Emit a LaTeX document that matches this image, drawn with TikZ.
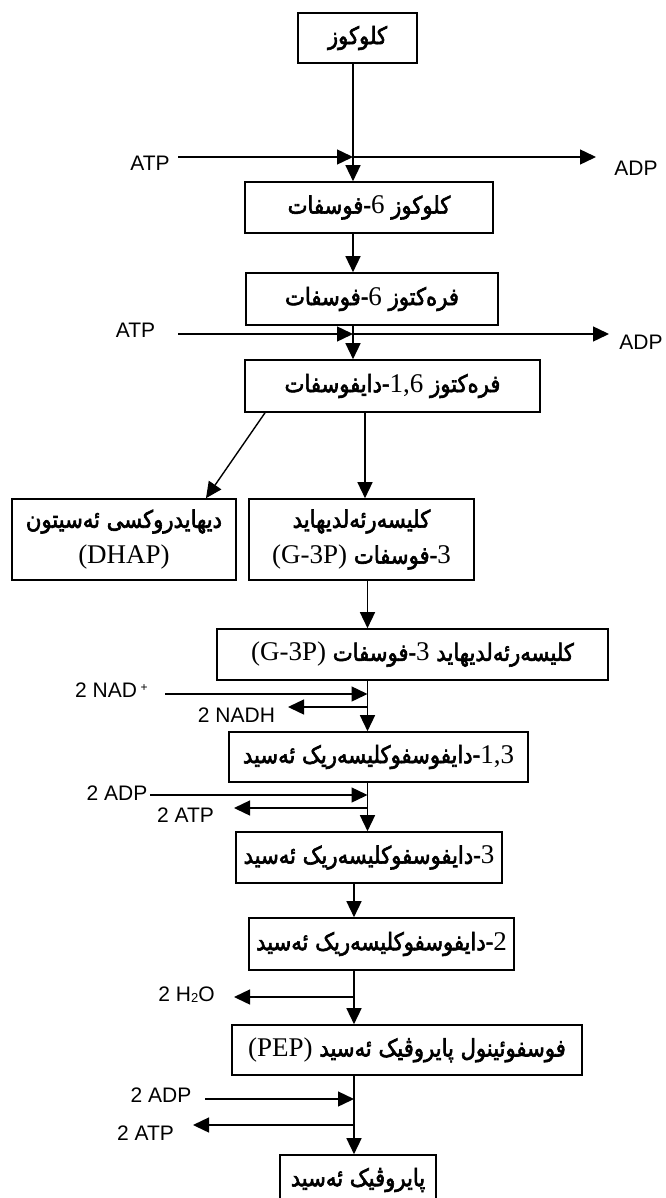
\documentclass[tikz,border=0pt]{standalone}
\usepackage{fontspec}
\usetikzlibrary{arrows.meta}
\TeXXeTstate=1
\newfontfamily\arfam[Script=Arabic,FakeBold=2.5,FakeStretch=0.88]{DejaVu Sans}
\newfontfamily\lsfam{Liberation Sans}
\newfontfamily\srfam{Liberation Serif}
\newcommand\arf{\arfam\fontsize{24}{36}\selectfont}
\newcommand\srf{\srfam\fontsize{27}{36}\selectfont}
\newcommand\AR[1]{{\arf\beginR #1\endR}}
\tikzset{
  box/.style={draw, line width=1.6pt, inner sep=0pt, align=center, font=\arf},
  lab/.style={inner sep=0pt, font=\lsfam\fontsize{21}{21}\selectfont},
  arr/.style={line width=1.4pt, -{Triangle[length=16pt,width=15pt]}},
}
\begin{document}
\begin{tikzpicture}[x=1pt,y=-1pt]
\fill[white] (0,0) rectangle (665,1198);
\useasboundingbox (0,0) rectangle (665,1198);

% boxes
\node[box, minimum width=119pt, minimum height=50pt] (glc) at (357.5,38) {\AR{کلوکوز}};
\node[box, minimum width=248pt, minimum height=51pt] (g6p) at (369,207.5) {\AR{کلوکوز {\srf 6}-فوسفات}};
\node[box, minimum width=252pt, minimum height=52pt] (f6p) at (372,299) {\AR{فرەکتوز {\srf 6}-فوسفات}};
\node[box, minimum width=295pt, minimum height=52pt] (f16) at (392.5,386) {\AR{فرەکتوز {\srf 1,6}-دایفوسفات}};
\node[box, minimum width=224pt, minimum height=81pt] (dhap) at (124,539.5) {\AR{دیهایدروکسی ئەسیتون}\\{\srf (DHAP)}};
\node[box, minimum width=225pt, minimum height=81pt] (g3p) at (361.5,539.5) {\AR{کلیسەرئەلدیهاید}\\\AR{{\srf 3}-فوسفات {\srf (G-3P)}}};
\node[box, minimum width=391pt, minimum height=51pt] (g3pb) at (412.5,654.5) {\AR{کلیسەرئەلدیهاید {\srf 3}-فوسفات {\srf (G-3P)}}};
\node[box, minimum width=299pt, minimum height=50pt] (bpg) at (378.5,757) {\AR{{\srf 1,3}-دایفوسفوکلیسەریک ئەسید}};
\node[box, minimum width=266pt, minimum height=51pt] (pga) at (369,857.5) {\AR{{\srf 3}-دایفوسفوکلیسەریک ئەسید}};
\node[box, minimum width=265pt, minimum height=52pt] (pgb) at (381.5,944) {\AR{{\srf 2}-دایفوسفوکلیسەریک ئەسید}};
\node[box, minimum width=350pt, minimum height=50pt] (pep) at (407,1050) {\AR{فوسفوئینول پایروڤیک ئەسید {\srf (PEP)}}};
\node[box, minimum width=156pt, minimum height=50pt] (pyr) at (358,1180) {\AR{پایروڤیک ئەسید}};

% labels
\node[lab] (atpA) at (150,163) {ATP};
\node[lab] (adpA) at (636,168) {ADP};
\node[lab] (atpB) at (135.5,330) {ATP};
\node[lab] (adpB) at (641,342) {ADP};
\node[lab, anchor=west] (nad) at (75,690) {2 NAD\,\raisebox{6pt}{\fontsize{12}{12}\selectfont +}};
\node[lab] (nadh) at (236.5,715) {2 NADH};
\node[lab] (adpC) at (117,793) {2 ADP};
\node[lab] (atpC) at (185.5,815) {2 ATP};
\node[lab] (h2o) at (186.5,995) {2 H\raisebox{-1pt}{\fontsize{13}{13}\selectfont 2}O};
\node[lab] (adpD) at (161,1095) {2 ADP};
\node[lab] (atpD) at (145.5,1133) {2 ATP};

% spine x positions
\coordinate (sA) at (353,0);
\coordinate (sB) at (365,0);
\coordinate (sC) at (367.5,0);
\coordinate (sD) at (354,0);
\coordinate (dA) at (265,0);
\coordinate (dB) at (206,0);

% main arrows
\draw[arr] (glc.south -| sA) -- (g6p.north -| sA);
\draw[arr] (g6p.south -| sA) -- (f6p.north -| sA);
\draw[arr] (f6p.south -| sA) -- (f16.north -| sA);
\draw[arr] (f16.south -| dA) -- (dhap.north -| dB);
\draw[arr] (f16.south -| sB) -- (g3p.north -| sB);
\draw[arr] (g3p.south -| sC) -- (g3pb.north -| sC);
\draw[arr] (g3pb.south -| sC) -- (bpg.north -| sC);
\draw[arr] (bpg.south -| sC) -- (pga.north -| sC);
\draw[arr] (pga.south -| sD) -- (pgb.north -| sD);
\draw[arr] (pgb.south -| sD) -- (pep.north -| sD);
\draw[arr] (pep.south -| sD) -- (pyr.north -| sD);

% side arrows
\coordinate (atpAs) at (178,157);
\coordinate (pA) at (353,157);
\coordinate (adpAe) at (596,157);
\draw[arr] (atpAs) -- (pA);
\draw[arr] (pA) -- (adpAe);

\coordinate (atpBs) at (178,334);
\coordinate (pB) at (353,334);
\coordinate (adpBe) at (609,334);
\draw[arr] (atpBs) -- (pB);
\draw[arr] (pB) -- (adpBe);

\coordinate (nads) at (165,694);
\coordinate (pC) at (367.5,694);
\coordinate (pD) at (367.5,707);
\coordinate (nadhe) at (288,707);
\draw[arr] (nads) -- (pC);
\draw[arr] (pD) -- (nadhe);

\coordinate (adpCs) at (150,795);
\coordinate (pE) at (367.5,795);
\coordinate (pF) at (367.5,808);
\coordinate (atpCe) at (234,808);
\draw[arr] (adpCs) -- (pE);
\draw[arr] (pF) -- (atpCe);

\coordinate (pG) at (354,997);
\coordinate (h2oe) at (234,997);
\draw[arr] (pG) -- (h2oe);

\coordinate (adpDs) at (205,1099);
\coordinate (pH) at (354,1099);
\coordinate (pI) at (354,1125);
\coordinate (atpDe) at (193,1125);
\draw[arr] (adpDs) -- (pH);
\draw[arr] (pI) -- (atpDe);
\end{tikzpicture}
\end{document}
